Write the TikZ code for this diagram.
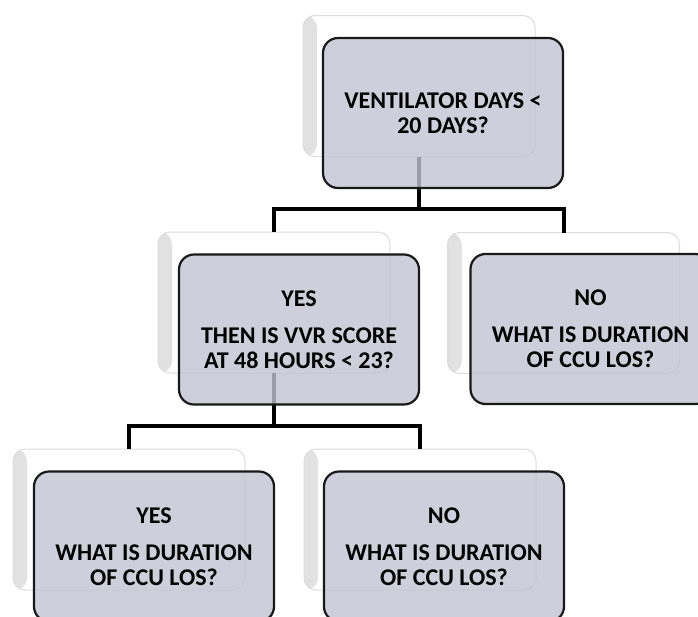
\documentclass[tikz,border=0pt]{standalone}
\usepackage{fontspec}
\setmainfont{Carlito}
\definecolor{frontfill}{RGB}{195,195,210}
\definecolor{frontline}{RGB}{25,25,25}
\definecolor{backline}{RGB}{220,220,220}
\tikzset{
  backbox/.style={draw=backline, line width=1pt, fill=white, rounded corners=12pt,
    minimum width=232pt, minimum height=141pt, inner sep=0pt, outer sep=0pt,
    path picture={\shade[left color=black!12, right color=white]
      (path picture bounding box.north west) rectangle ([xshift=14pt]path picture bounding box.south west);}},
  frontbox/.style={draw=frontline, line width=2.2pt, fill=frontfill, fill opacity=0.8, text opacity=1,
    rounded corners=15pt, minimum width=240pt, minimum height=150pt, inner sep=0pt, outer sep=0pt,
    align=center, font=\bfseries\fontsize{24}{25}\selectfont},
  conn/.style={line width=4pt, black, line join=miter},
}
\begin{document}
\begin{tikzpicture}[x=1pt,y=-1pt]
\useasboundingbox (0,0) rectangle (698,616);
\clip (0,0) rectangle (698,616);
% back boxes
\node[backbox] (b1) at (419,86) {};
\node[backbox] (b2) at (274,302.5) {};
\node[backbox] (b3) at (563.5,303) {};
\node[backbox] (b4) at (129,519.5) {};
\node[backbox] (b5) at (420,519.5) {};
% connectors
\coordinate (j1) at (419,209);
\coordinate (j2) at (274,426);
\draw[conn] (b1.south) -- (j1);
\draw[conn] (b2.north) |- (j1) -| (b3.north);
\draw[conn] (b2.south) -- (j2);
\draw[conn] (b4.north) |- (j2) -| (b5.north);
% front boxes
\node[frontbox] (f1) at ([shift={(24,27)}]b1.center) {VENTILATOR DAYS <\\20 DAYS?};
\node[frontbox] (f2) at ([shift={(25,27)}]b2.center) {YES\\[12pt]THEN IS VVR SCORE\\AT 48 HOURS < 23?};
\node[frontbox] (f3) at ([shift={(27,26)}]b3.center) {NO\\[12pt]WHAT IS DURATION\\OF CCU LOS?};
\node[frontbox] (f4) at ([shift={(25,27)}]b4.center) {YES\\[12pt]WHAT IS DURATION\\OF CCU LOS?};
\node[frontbox] (f5) at ([shift={(24,27)}]b5.center) {NO\\[12pt]WHAT IS DURATION\\OF CCU LOS?};
\end{tikzpicture}
\end{document}
